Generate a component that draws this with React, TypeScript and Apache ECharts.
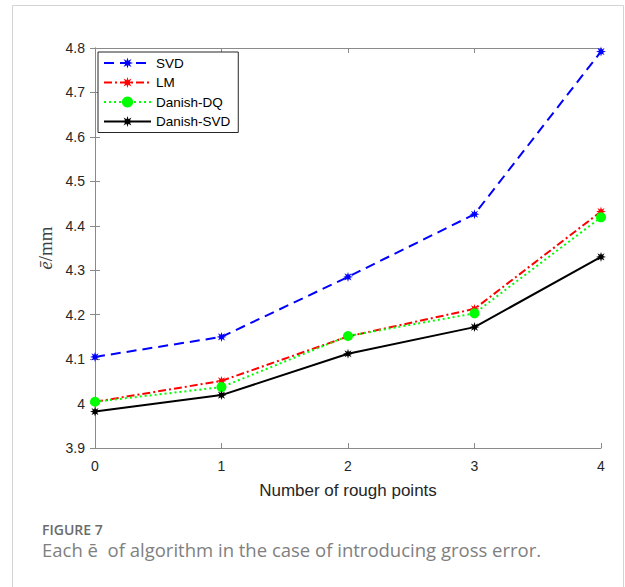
import React, { useEffect, useRef } from "react";
import * as echarts from "echarts";

const xValues = [0, 1, 2, 3, 4];
const svd = [4.105, 4.15, 4.285, 4.426, 4.792];
const lm = [4.004, 4.051, 4.151, 4.213, 4.432];
const danishDQ = [4.004, 4.037, 4.152, 4.203, 4.419];
const danishSVD = [3.982, 4.019, 4.112, 4.172, 4.33];
const seriesNames = ["SVD", "LM", "Danish-DQ", "Danish-SVD"];

const STAR =
  "path://M10,0 L4.16,1.72 L7.07,7.07 L1.72,4.16 L0,10 L-1.72,4.16 L-7.07,7.07 L-4.16,1.72 L-10,0 L-4.16,-1.72 L-7.07,-7.07 L-1.72,-4.16 L0,-10 L1.72,-4.16 L7.07,-7.07 L4.16,-1.72 Z";

const zip = (ys: number[]) => xValues.map((x, i) => [x, ys[i]]);

export default function App() {
  const ref = useRef<HTMLDivElement>(null);
  useEffect(() => {
    if (!ref.current) return;
    const chart = echarts.init(ref.current, undefined, { renderer: "svg" });
    const axisColor = "#8a8a8a";
    const labelColor = "#262626";
    const font = '"Liberation Sans", Arial, sans-serif';
    const serif = '"Liberation Serif", "Times New Roman", serif';
    const mk = (
      name: string,
      ys: number[],
      color: string,
      type: any,
      symbol: string,
      size: number
    ) => ({
      name,
      type: "line",
      data: zip(ys),
      xAxisIndex: 0,
      yAxisIndex: 0,
      symbol,
      symbolSize: size,
      symbolKeepAspect: true,
      showAllSymbol: true,
      lineStyle: { color, width: 2, type },
      itemStyle: { color, borderWidth: 0 },
      emphasis: { disabled: true },
    });
    chart.setOption({
      animation: false,
      grid: { left: 95, right: 24, top: 48, bottom: 139, containLabel: false },
      legend: {
        data: seriesNames,
        orient: "vertical",
        left: 98,
        top: 52,
        itemWidth: 47,
        itemHeight: 14,
        itemGap: 5.5,
        padding: [4, 8, 4, 5],
        borderColor: "#262626",
        borderWidth: 1,
        backgroundColor: "#ffffff",
        textStyle: { fontFamily: font, fontSize: 13.5, color: "#000" },
      },
      xAxis: [
        {
          type: "value",
          min: 0,
          max: 4,
          interval: 1,
          name: "Number of rough points",
          nameLocation: "middle",
          nameGap: 34,
          nameTextStyle: { fontFamily: font, fontSize: 17, color: labelColor },
          axisLine: { show: true, lineStyle: { color: axisColor, width: 1 } },
          axisTick: { show: true, inside: true, length: 5, lineStyle: { color: axisColor } },
          axisLabel: { fontFamily: font, fontSize: 14, color: labelColor, margin: 11 },
          splitLine: { show: false },
        },
        {
          type: "value",
          position: "top",
          min: 0,
          max: 4,
          interval: 1,
          axisLine: { show: true, lineStyle: { color: axisColor, width: 1 } },
          axisTick: { show: true, inside: true, length: 5, lineStyle: { color: axisColor } },
          axisLabel: { show: false },
          splitLine: { show: false },
        },
      ],
      yAxis: [
        {
          type: "value",
          min: 3.9,
          max: 4.8,
          interval: 0.1,
          name: "{a|ē}{b|/mm}",
          nameLocation: "middle",
          nameGap: 38,
          nameRotate: 90,
          nameTextStyle: {
            rich: {
              a: { fontFamily: serif, fontStyle: "italic", fontSize: 19, color: "#404040" },
              b: { fontFamily: serif, fontSize: 19, color: "#404040" },
            },
          },
          axisLine: { show: true, lineStyle: { color: axisColor, width: 1 } },
          axisTick: { show: true, inside: true, length: 5, lineStyle: { color: axisColor } },
          axisLabel: {
            fontFamily: font,
            fontSize: 14,
            color: labelColor,
            margin: 10,
            formatter: (v: number) => String(parseFloat(v.toFixed(1))),
          },
          splitLine: { show: false },
        },
        {
          type: "value",
          position: "right",
          min: 3.9,
          max: 4.8,
          interval: 0.1,
          axisLine: { show: true, lineStyle: { color: axisColor, width: 1 } },
          axisTick: { show: true, inside: true, length: 5, lineStyle: { color: axisColor } },
          axisLabel: { show: false },
          splitLine: { show: false },
        },
      ],
      series: [
        mk("SVD", svd, "#0000ff", [10, 6], STAR, 10),
        mk("LM", lm, "#ff0000", [8, 3, 2, 3], STAR, 10),
        mk("Danish-DQ", danishDQ, "#00ff00", [2, 3], "circle", 10),
        mk("Danish-SVD", danishSVD, "#000000", "solid", STAR, 10),
      ],
      graphic: [
        {
          type: "rect",
          shape: { x: 12.5, y: 5.5, width: 611, height: 620 },
          style: { fill: "none", stroke: "#d4d4d4", lineWidth: 1 },
          silent: true,
        },
        {
          type: "text",
          left: 42,
          top: 522,
          style: {
            text: "FIGURE 7",
            fontFamily: '"Open Sans", sans-serif',
            fontWeight: 600,
            fontSize: 14,
            lineHeight: 14,
            fill: "#6b6b6b",
          },
        },
        {
          type: "text",
          left: 42,
          top: 540,
          style: {
            text: "Each ē  of algorithm in the case of introducing gross error.",
            fontFamily: '"Open Sans", sans-serif',
            fontSize: 18.5,
            lineHeight: 19,
            fill: "#808080",
          },
        },
      ],
    });
    return () => chart.dispose();
  }, []);
  return (
    <div
      ref={ref}
      style={{ position: "absolute", left: 0, top: 0, width: 625, height: 587, background: "#fff" }}
    />
  );
}
